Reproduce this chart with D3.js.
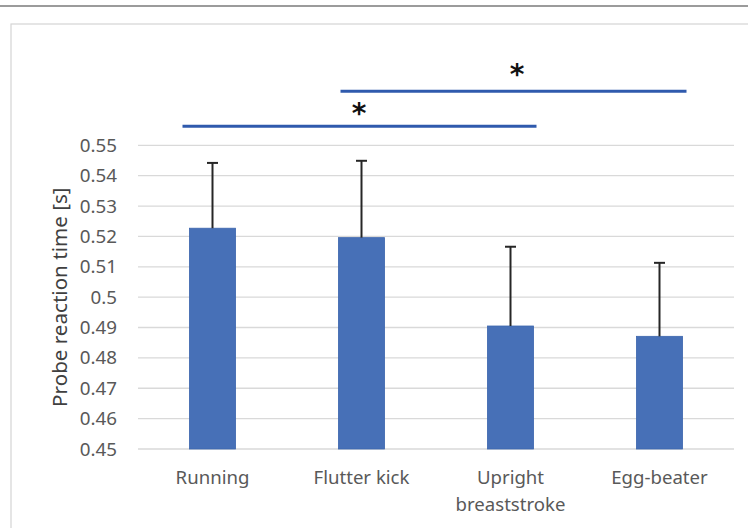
<!DOCTYPE html>
<html><head><meta charset="utf-8">
<script src="https://cdn.jsdelivr.net/npm/d3@7/dist/d3.min.js"></script>
<style>
html,body{margin:0;padding:0;background:#fff;}
svg{display:block;font-family:"Noto Sans","Open Sans",sans-serif;}
</style></head><body>
<svg id="c" width="748" height="528"></svg>
<script>
const categories = [["Running"], ["Flutter kick"], ["Upright", "breaststroke"], ["Egg-beater"]];
const catKeys = ["Running", "Flutter kick", "Upright breaststroke", "Egg-beater"];
const means = [0.5227, 0.5196, 0.4905, 0.4871];
const errors = [0.0215, 0.0253, 0.0261, 0.0242];
const yTicks = [0.45, 0.46, 0.47, 0.48, 0.49, 0.5, 0.51, 0.52, 0.53, 0.54, 0.55];
const sigFrom = ["Running", "Flutter kick"];
const sigTo = ["Upright breaststroke", "Egg-beater"];
const sigLevel = [0.5563, 0.5678];
const sigStarLevel = [0.5622, 0.5750];

const svg = d3.select("#c");
const W = 748, H = 528;
const plot = {left: 138, right: 734, top: 145.3, bottom: 449};

// frame
svg.append("line").attr("x1",0).attr("x2",W).attr("y1",6).attr("y2",6)
  .attr("stroke","#7a7a7a").attr("stroke-width",1.5);
svg.append("rect").attr("x",11).attr("y",24).attr("width",W+20).attr("height",H)
  .attr("fill","none").attr("stroke","#d4d4d4").attr("stroke-width",1.2);

const x = d3.scaleBand().domain(catKeys).range([plot.left, plot.right]).paddingInner(0.69).paddingOuter(0.345);
const y = d3.scaleLinear().domain([0.45, 0.55]).range([plot.bottom, plot.top]);
const cx = k => x(k) + x.bandwidth()/2;

// gridlines
svg.append("g").selectAll("line").data(yTicks).join("line")
  .attr("x1", plot.left).attr("x2", plot.right)
  .attr("y1", d => y(d)).attr("y2", d => y(d))
  .attr("stroke", "#d9d9d9").attr("stroke-width", 1.3);

// y axis labels
const yAxis = d3.axisLeft(y).tickValues(yTicks).tickSize(0).tickPadding(0)
  .tickFormat(d => d3.format("")(+d.toFixed(2)));
const gy = svg.append("g").attr("transform", "translate(117,0)").call(yAxis);
gy.select(".domain").remove();
gy.selectAll("text").attr("font-size", 18.8).attr("fill", "#595959")
  .attr("font-family", "'Noto Sans','Open Sans',sans-serif");

// y title
svg.append("text").attr("transform", `translate(67,${(plot.top+plot.bottom)/2}) rotate(-90)`)
  .attr("text-anchor","middle").attr("font-size",20.6).attr("fill","#404040")
  .text("Probe reaction time [s]");

// bars
svg.append("g").selectAll("rect").data(means).join("rect")
  .attr("x", (d,i) => x(catKeys[i])).attr("width", x.bandwidth())
  .attr("y", d => y(d)).attr("height", d => y(0.45) - y(d))
  .attr("fill", "#4770b7").attr("stroke", "#3d66ad").attr("stroke-width", 0.8);

// error bars
const eg = svg.append("g").attr("stroke", "#262626").attr("stroke-width", 2);
means.forEach((m,i) => {
  const c = cx(catKeys[i]);
  eg.append("line").attr("x1",c).attr("x2",c).attr("y1",y(m)).attr("y2",y(m+errors[i]));
  eg.append("line").attr("x1",c-5.5).attr("x2",c+5.5).attr("y1",y(m+errors[i])).attr("y2",y(m+errors[i]));
});

// x labels
categories.forEach((lines,i) => {
  const t = svg.append("text").attr("x", cx(catKeys[i])).attr("y", 484)
    .attr("text-anchor","middle").attr("font-size",18.6).attr("fill","#595959");
  lines.forEach((l,j) => t.append("tspan").attr("x", cx(catKeys[i])).attr("dy", j===0?0:27).text(l));
});

// significance
const offL = [-30, -21], offR = [26, 27];
sigFrom.forEach((f,i) => {
  const x1 = cx(f) + offL[i], x2 = cx(sigTo[i]) + offR[i];
  svg.append("line").attr("x1",x1).attr("x2",x2).attr("y1",y(sigLevel[i])).attr("y2",y(sigLevel[i]))
    .attr("stroke","#2f5aad").attr("stroke-width",3);
});
const starX = [359, 517];
[0,1].forEach(i => {
  svg.append("text").attr("x", starX[i]).attr("y", y(sigStarLevel[i]) + 15)
    .attr("text-anchor","middle").attr("font-size",28).attr("font-weight","bold")
    .attr("font-family","'DejaVu Sans',sans-serif").attr("fill","#111").text("*");
});
</script>
</body></html>
